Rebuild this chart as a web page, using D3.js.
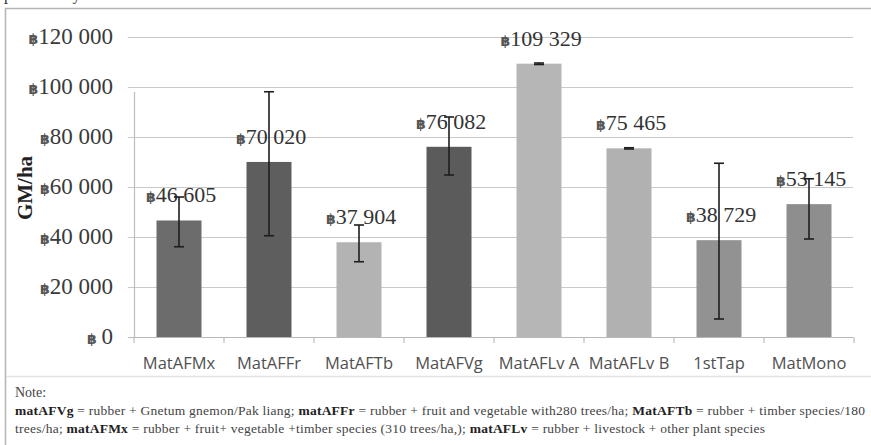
<!DOCTYPE html>
<html>
<head>
<meta charset="utf-8">
<script src="https://cdn.jsdelivr.net/npm/d3@7"></script>
<style>
  body { margin: 0; background: #fff; }
  svg { display: block; }
</style>
</head>
<body>
<svg id="chart" width="871" height="445"></svg>
<script>
// values
categories = ["MatAFMx", "MatAFFr", "MatAFTb", "MatAFVg", "MatAFLv A", "MatAFLv B", "1stTap", "MatMono"]
gm_values = [46605, 70020, 37904, 76082, 109329, 75465, 38729, 53145]
err_low = [36100, 40500, 30100, 64800, 109000, 75200, 7200, 39200]
err_high = [56000, 98100, 44800, 88000, 109600, 75700, 69500, 63300]
bar_colors = ["#6c6c6c", "#5e5e5e", "#b3b3b3", "#5b5b5b", "#b6b6b6", "#b1b1b1", "#929292", "#8e8e8e"]
y_ticks = [0, 20000, 40000, 60000, 80000, 100000, 120000]

note_lines = [
  [["matAFVg", true], [" = rubber + Gnetum gnemon/Pak liang; ", false], ["matAFFr", true], [" = rubber + fruit and vegetable with280 trees/ha; ", false], ["MatAFTb", true], [" = rubber + timber species/180", false]],
  [["trees/ha; ", false], ["matAFMx", true], [" = rubber + fruit+ vegetable +timber species (310 trees/ha,); ", false], ["matAFLv", true], [" = rubber + livestock + other plant species", false]]
]

// no d3-selection-multi here, so a small stand-in for .attrs
d3.selection.prototype.attrs = function(o) {
  for (k in o) this.attr(k, o[k])
  return this
}

fmt = d3.formatLocale({decimal: ".", thousands: " ", grouping: [3], currency: ["", ""]}).format(",")
baht_font = "DejaVu Sans"

svg = d3.select("#chart")

// frame of the clipped figure (only the tail of the caption above shows)
svg.append("text")
  .attrs({x: 4, y: 0, "font-family": "Liberation Serif", "font-size": 16, fill: "#333"})
  .text("profitability")
svg.append("path")
  .attrs({d: "M5.5,445 V8.5 H871", fill: "none", stroke: "#b5b5b5", "stroke-width": 1.5})
svg.append("line")
  .attrs({x1: 6, x2: 871, y1: 376.5, y2: 376.5, stroke: "#e2e2e2", "stroke-width": 1.5})

x = d3.scaleBand().domain(categories).range([134, 854]).paddingInner(0.5).paddingOuter(0.25)
y = d3.scaleLinear().domain([0, 120000]).range([337, 37])

// gridlines
svg.append("g").selectAll("line")
  .data(y_ticks).enter()
  .append("line")
  .attrs({x1: 128, x2: 853, y1: d => Math.round(y(d)) + 0.5, y2: d => Math.round(y(d)) + 0.5,
    stroke: d => d == 0 ? "#b8b8b8" : "#c9c9c9", "stroke-width": 1.2})

// y axis line
svg.append("line")
  .attrs({x1: 134.5, x2: 134.5, y1: 92, y2: 337, stroke: "#bdbdbd", "stroke-width": 1.2})

// x ticks at band edges
edges = categories.map(c => x(c) - x.step() * x.paddingInner() / 2).concat([854])
svg.append("g").selectAll("line")
  .data(edges).enter()
  .append("line")
  .attrs({x1: d => d, x2: d => d, y1: 337, y2: 343, stroke: "#bdbdbd", "stroke-width": 1.2})

// y tick labels
yt = svg.append("g").selectAll("text")
  .data(y_ticks).enter()
  .append("text")
  .attrs({x: 113, y: d => y(d) + 7, "text-anchor": "end", "font-family": "Liberation Serif", fill: "#3a3a3a"})
yt.append("tspan").attrs({"font-size": 14, "font-family": baht_font, "font-weight": "bold", fill: "#555"})
  .text(d => d == 0 ? "\u0E3F " : "\u0E3F")
yt.append("tspan").attrs({"font-size": 23}).text(d => fmt(d))

// axis title
svg.append("text")
  .attrs({transform: "translate(32,188) rotate(-90)", "text-anchor": "middle",
    "font-family": "Liberation Serif", "font-weight": "bold", "font-size": 21, fill: "#222"})
  .text("GM/ha")

// bars
svg.append("g").selectAll("rect")
  .data(categories).enter()
  .append("rect")
  .attrs({
    x: d => x(d),
    y: (d, i) => y(gm_values[i]),
    width: x.bandwidth(),
    height: (d, i) => y(0) - y(gm_values[i]),
    fill: (d, i) => bar_colors[i]
  })

// value labels
vl = svg.append("g").selectAll("text")
  .data(categories).enter()
  .append("text")
  .attrs({x: d => x(d) + x.bandwidth() / 2 + 2, y: (d, i) => y(gm_values[i]) - 18,
    "text-anchor": "middle", "font-family": "Liberation Serif", fill: "#333"})
vl.append("tspan").attrs({"font-size": 14, "font-family": baht_font, "font-weight": "bold", fill: "#555"}).text("\u0E3F")
vl.append("tspan").attrs({"font-size": 22}).text((d, i) => fmt(gm_values[i]))

// error bars
eb = svg.append("g").attrs({stroke: "#1e1e1e", "stroke-width": 1.6})
eb.selectAll("line.v")
  .data(categories).enter()
  .append("line")
  .attrs({x1: d => x(d) + x.bandwidth() / 2, x2: d => x(d) + x.bandwidth() / 2,
    y1: (d, i) => y(err_low[i]), y2: (d, i) => y(err_high[i])})
eb.selectAll("line.lo")
  .data(categories).enter()
  .append("line")
  .attrs({x1: d => x(d) + x.bandwidth() / 2 - 5, x2: d => x(d) + x.bandwidth() / 2 + 5,
    y1: (d, i) => y(err_low[i]), y2: (d, i) => y(err_low[i])})
eb.selectAll("line.hi")
  .data(categories).enter()
  .append("line")
  .attrs({x1: d => x(d) + x.bandwidth() / 2 - 5, x2: d => x(d) + x.bandwidth() / 2 + 5,
    y1: (d, i) => y(err_high[i]), y2: (d, i) => y(err_high[i])})

// category labels
svg.append("g").selectAll("text")
  .data(categories).enter()
  .append("text")
  .attrs({x: d => x(d) + x.bandwidth() / 2, y: 369, "text-anchor": "middle",
    "font-family": "Open Sans", "font-size": 16.5, fill: "#505050"})
  .text(d => d)

// note underneath
svg.append("text")
  .attrs({x: 15, y: 397, "font-family": "Liberation Serif", "font-size": 14, fill: "#444"})
  .text("Note:")
note_ends = [865, 765]
note_lines.forEach((parts, k) => {
  t = svg.append("text")
    .attrs({x: 15, y: 415 + k * 17.5, "font-family": "Liberation Serif", "font-size": 13.5, fill: "#444",
      textLength: note_ends[k] - 15, lengthAdjust: "spacing"})
  parts.forEach(p => {
    t.append("tspan").attrs({"font-weight": p[1] ? "bold" : "normal", fill: p[1] ? "#222" : "#444"}).text(p[0])
  })
})
</script>
</body>
</html>
